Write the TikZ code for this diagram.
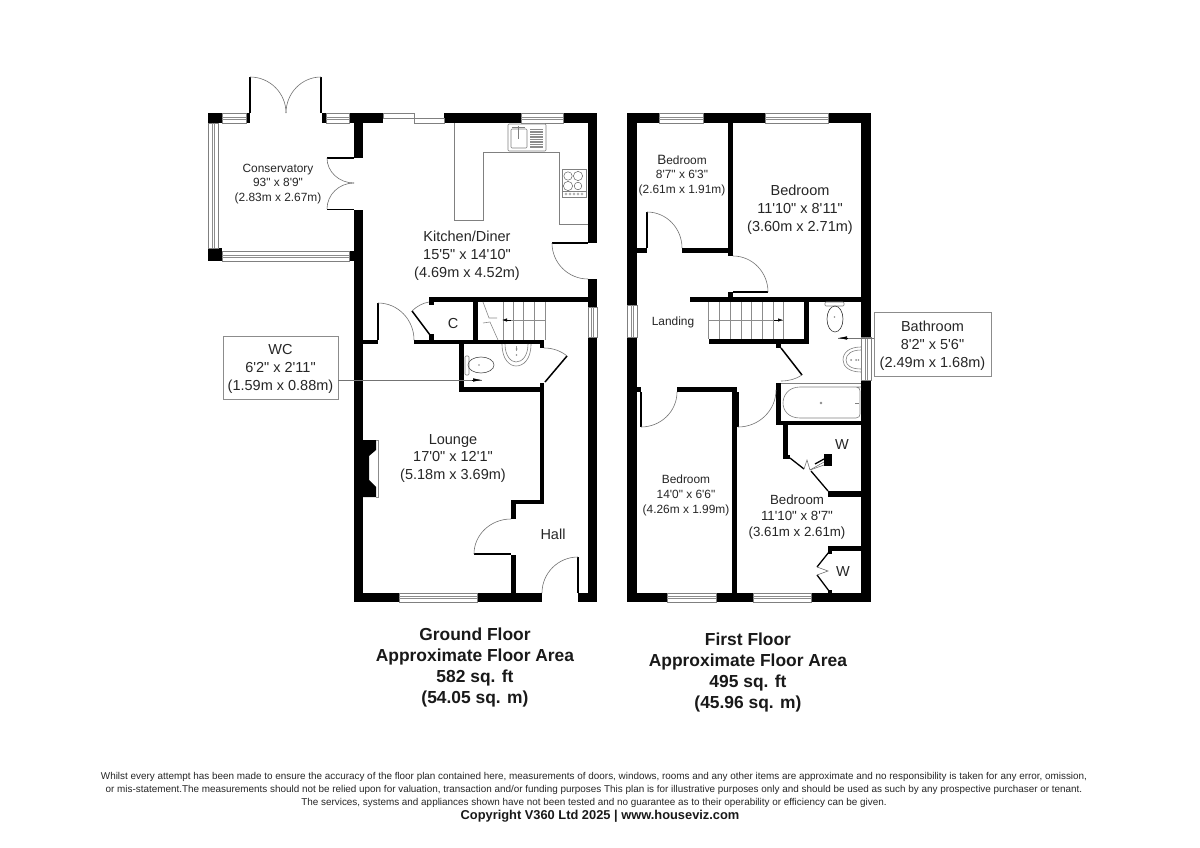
\documentclass[tikz,border=0pt]{standalone}
\usepackage{fontspec}
\setmainfont{Liberation Sans}[Ligatures=TeXOff]
\usetikzlibrary{calc,arrows.meta}
\tikzset{
  thinline/.style={draw=black!45,line width=0.6pt},
  fixture/.style={draw=black!50,line width=0.6pt},
  doorarc/.style={draw=black!55,line width=0.6pt},
  leaf/.style={draw=black,line width=1.5pt},
  windowpane/.style={draw=black!50,fill=white,line width=0.6pt},
  lbig/.style={font=\fontsize{14.5}{17.8}\selectfont,align=center,inner sep=0pt,text=black!85},
  lmid/.style={font=\fontsize{13.3}{16}\selectfont,align=center,inner sep=0pt,text=black!85},
  lsmall/.style={font=\fontsize{11.9}{14.6}\selectfont,align=center,inner sep=0pt,text=black!85},
  boxed/.style={draw=black!45,line width=0.6pt,minimum width=#1,fill=white},
  heading/.style={font=\fontsize{17.4}{21.2}\selectfont\bfseries,align=center,inner sep=0pt,text=black!90},
  legal/.style={font=\fontsize{9.9}{13.2}\selectfont,align=center,inner sep=0pt,text=black!85},
  tagline/.style={font=\fontsize{12.85}{14}\selectfont\bfseries,inner sep=0pt,text=black!90},
  pointer/.style={draw=black!55,line width=0.6pt},
  pointerhead/.style={-{Latex[length=9pt,width=3.5pt]},draw=black,line width=0.6pt}
}
\newcommand\wall[4]{\fill[black] (#1,#2) rectangle (#3,#4);}
\newcommand\hwin[4]{\draw[windowpane] (#1,#2) rectangle (#3,#4);
  \draw[thinline] (#1,{(#2+#4)/2-1}) -- (#3,{(#2+#4)/2-1}) (#1,{(#2+#4)/2+1}) -- (#3,{(#2+#4)/2+1});}
\newcommand\vwin[4]{\draw[windowpane] (#1,#2) rectangle (#3,#4);
  \draw[thinline] ({(#1+#3)/2-1},#2) -- ({(#1+#3)/2-1},#4) ({(#1+#3)/2+1},#2) -- ({(#1+#3)/2+1},#4);}
% quarter arc from (1,2) to (3,4) around centre (5,6)
\newcommand\darc[6]{\draw[doorarc] (#1,#2) .. controls ($(#1,#2)!.552!({#1+#3-#5},{#2+#4-#6})$) and ($(#3,#4)!.552!({#1+#3-#5},{#2+#4-#6})$) .. (#3,#4);}
\begin{document}
\begin{tikzpicture}[x=1pt,y=-1pt]
\useasboundingbox (0,0) rectangle (1200,848);
\fill[white] (0,0) rectangle (1200,848);

%%%%%%%% GROUND FLOOR
% outer walls
\wall{349}{113}{383}{123}\wall{444}{113}{521}{123}\wall{563}{113}{597}{123}
\wall{354}{113}{363}{158}\wall{354}{210}{363}{602}
\wall{588}{113}{597}{243}\wall{588}{279}{597}{307}\wall{588}{337}{597}{602}
\wall{354}{593}{399}{602}\wall{477}{593}{542}{602}\wall{578}{593}{597}{602}
% conservatory
\wall{208}{113}{222}{123}\wall{246}{113}{250}{123}\wall{322}{113}{326}{123}
\wall{208}{248}{222}{261}\wall{349}{251}{354}{261}
\hwin{222}{113}{246}{123}\hwin{326}{113}{349}{123}
\vwin{208}{123}{218}{248}\hwin{222}{251}{349}{261}
\draw[leaf,line width=1.2pt] (250,113) -- (250,77);
\draw[leaf,line width=1.2pt] (321,113) -- (321,77);
\darc{250}{77}{286}{113}{250}{113}
\darc{321}{77}{286}{113}{321}{113}
\draw[leaf,line width=1.2pt] (354,158) -- (327,158);
\draw[leaf,line width=1.2pt] (354,209.5) -- (327,209.5);
\darc{327}{158}{354}{183}{354}{158}
\darc{327}{209}{354}{183}{354}{209}
% top slider + windows
\draw[windowpane] (383,113) rectangle (414,118);
\draw[windowpane] (414,118) rectangle (444,123);
\hwin{521}{113}{563}{123}
\vwin{588}{307}{597}{337}
\hwin{399}{593}{477}{602}
% interior walls
\wall{430}{297}{597}{302}
\wall{429}{297}{434}{305}
\wall{429}{334}{434}{344}
\wall{363}{340}{378}{344}
\wall{414}{340}{544}{344}
\wall{473}{297}{478}{344}
\wall{459}{344}{464}{392}
\wall{459}{387}{544}{392}
\wall{540}{340}{544}{348}
\wall{540}{383}{544}{504}
\wall{511}{500}{544}{504}
\wall{511}{500}{516}{519}
\wall{511}{555}{516}{593}
% doors
\draw[leaf] (552,243) -- (588,243);
\darc{552}{243}{588}{279}{588}{243}
\draw[leaf,line width=1.2pt] (578,593) -- (578,557);
\darc{578}{557}{542}{593}{578}{593}
\draw[leaf,line width=1.2pt] (511,554) -- (474,554);
\darc{474}{554}{511}{519}{511}{554}
\draw[leaf,line width=1.2pt] (378,340) -- (378,303);
\darc{378}{303}{414}{340}{378}{340}
\draw[leaf] (430,335) -- (412,311);
\draw[doorarc] (412,311) .. controls (417,306) and (423,303) .. (429,302);
\draw[leaf] (545,382) -- (567,356);
\draw[doorarc] (567,356) .. controls (561,351) and (553,348) .. (544,348);
% kitchen fittings
\draw[fixture] (454,123) -- (454,220) -- (483,220) -- (483,152) -- (559,152) -- (559,224) -- (588,224);
\draw[fixture,fill=white,rounded corners=1pt] (508,124) rectangle (546,151);
\draw[fixture,rounded corners=1pt] (511,129) rectangle (527,148);
\draw[fixture] (518,126) -- (518,139) (512,127) -- (525,127);
\foreach \yy in {129.5,132,...,147} {\draw[black!45,line width=1.2pt] (530,\yy) -- (543,\yy);}
\draw[fixture,fill=white] (562,169) rectangle (586,197);
\draw[fixture] (562,191) -- (586,191);
\foreach \xx/\yy/\rr in {568/176/4.2,578/176/4.6,568/186/4.6,578/186/3.8} {\draw[black!60,line width=0.5pt] (\xx,\yy) circle [radius=\rr];}
\foreach \xx in {566,570,574,578,582} {\draw[black!45,line width=0.4pt] (\xx,194) circle [radius=1.2];}
% ground stairs
\foreach \xx in {503,513,523,534,545} {\draw[thinline] (\xx,302) -- (\xx,340);}
\draw[thinline] (503,320) -- (545,320);
\draw[thinline] (483,302) -- (489,318) -- (497,318);
\draw[thinline] (483,323) -- (490,322) -- (498,340);
\draw[-{Latex[length=5pt,width=3.5pt]},black,line width=0.7pt] (511,320) -- (502,320);
% WC fittings
\draw[fixture] (502,344) .. controls (502,360) and (510,366) .. (516,366) .. controls (523,366) and (531,360) .. (531,344);
\draw[fixture] (505,344) .. controls (505,356) and (511,362) .. (516,362) .. controls (522,362) and (528,356) .. (528,344);
\draw[black!40,line width=0.5pt] (516.5,346) -- (516.5,351);
\fill[black!45] (516.5,349) circle [radius=1] (516.5,355) circle [radius=0.9];
\draw[fixture,rounded corners=1pt] (465,356) rectangle (469,375);
\draw[black!70,line width=0.6pt] (481,365) ellipse [x radius=13,y radius=8];
\fill[black!45] (479,365) circle [radius=0.9];
% lounge fireplace
\fill[black] (363,440) -- (376,440) -- (376,450) -- (369,456) -- (369,480) -- (376,487) -- (376,497) -- (363,497) -- cycle;
\draw[thinline] (376,440) -- (378,440) -- (378,497) -- (376,497);

%%%%%%%% FIRST FLOOR
\wall{627}{113}{659}{123}\wall{703}{113}{765}{123}\wall{828}{113}{871}{123}
\wall{627}{113}{637}{305}\wall{627}{337}{637}{602}
\wall{861}{113}{871}{337}\wall{861}{380}{871}{602}
\wall{627}{593}{667}{602}\wall{716}{593}{753}{602}\wall{811}{593}{871}{602}
\hwin{659}{113}{703}{123}\hwin{765}{113}{828}{123}
\vwin{627}{305}{637}{337}\vwin{861}{337}{871}{380}
\hwin{667}{593}{716}{602}\hwin{753}{593}{811}{602}
% interior
\wall{728}{123}{733}{256}
\wall{637}{248}{647}{253}\wall{682}{248}{733}{253}
\wall{728}{292}{733}{300}
\wall{690}{297}{861}{302}
\wall{804}{297}{809}{344}
\wall{709}{339}{809}{344}
\wall{776}{344}{781}{348}
\wall{776}{383}{781}{425}
\wall{776}{421}{861}{425}
\wall{637}{387}{641}{392}
\wall{677}{387}{737}{392}
\wall{732}{387}{737}{593}
\wall{783}{425}{788}{458}
\wall{783}{455}{790}{459}
\wall{828}{491}{861}{497}
\wall{824}{454}{832}{466}
\wall{828}{546}{861}{551}
\wall{828}{546}{832}{554}
\wall{828}{590}{832}{593}
% doors
\draw[leaf] (647,248) -- (647,212);
\darc{647}{212}{682}{248}{647}{248}
\draw[leaf] (733,292) -- (768,292);
\darc{733}{256}{768}{292}{733}{292}
\draw[leaf] (781,348) -- (802,375);
\draw[doorarc] (802,375) .. controls (796,379) and (789,381) .. (781,381);
\draw[leaf,line width=1.1pt] (641,392) -- (641,427);
\darc{641}{427}{677}{392}{641}{392}
\draw[leaf,line width=1.1pt] (738,392) -- (738,427);
\darc{738}{427}{776}{390}{738}{390}
% wardrobes
\draw[leaf,line width=1.3pt] (790,458) -- (804,469);
\draw[leaf,line width=1.3pt] (811,471) -- (828,491);
\draw[leaf,line width=1.3pt] (824,459) -- (815,464);
\draw[doorarc] (804,469) -- (807,460) -- (810,470) -- (824,462);
\draw[doorarc] (810,470) -- (824,465);
\draw[leaf,line width=1.3pt] (829,552) -- (817,567);
\draw[leaf,line width=1.3pt] (817,575) -- (829,591);
\draw[doorarc] (817,567) -- (828,571) -- (817,575);
% first stairs
\foreach \xx in {708,719,730,741,751,762,773,783} {\draw[thinline] (\xx,302) -- (\xx,339);}
\draw[thinline] (708,320) -- (783,320);
\draw[-{Latex[length=5pt,width=3.5pt]},black,line width=0.7pt] (774,320) -- (783,320);
% bath
\draw[fixture] (781,383) -- (861,383);
\draw[fixture] (861,387) -- (800,387) .. controls (788,387) and (783,396) .. (783,403) .. controls (783,410) and (788,418) .. (800,418) -- (856,418) .. controls (859,418) and (860,416) .. (860,414) -- (860,391) .. controls (860,389) and (859,387) .. (856,387);
\fill[black!45] (821,403) circle [radius=1.4];
\draw[black!50,line width=1pt] (855,403) -- (859,403);
% bathroom toilet and basin
\draw[fixture,rounded corners=1pt] (825,302) rectangle (844,306);
\draw[black!80,line width=0.6pt] (835,319) ellipse [x radius=8,y radius=13];
\fill[black!45] (834.5,317) circle [radius=0.9];
\draw[fixture] (861,347) .. controls (850,347) and (843,352) .. (843,360) .. controls (843,367) and (850,372) .. (861,372);
\draw[fixture] (861,350) .. controls (852,350) and (846,354) .. (846,360) .. controls (846,366) and (852,369) .. (861,369);
\fill[black!45] (851,360) circle [radius=1] (856,360) circle [radius=1] (858.5,360) circle [radius=.9];

%%%%%%%% LABELS
\node[lsmall] (conservatory) at (278,184) {Conservatory\\93" x 8'9"\\(2.83m x 2.67m)};
\node[lbig] (kitchen) at (467,255.5) {Kitchen/Diner\\15'5" x 14'10"\\(4.69m x 4.52m)};
\node[lbig] (cupboard) at (453,323.5) {C};
\node[lbig,boxed=115pt,minimum height=63pt] (wc) at (280.5,367.5) {\rule{0pt}{13pt}WC\\6'2" x 2'11"\\(1.59m x 0.88m)};
\node[lbig] (lounge) at (453,458.5) {Lounge\\17'0" x 12'1"\\(5.18m x 3.69m)};
\node[lbig] (hall) at (553,534.5) {Hall};
\node[lsmall] (bed4) at (682,175.5) {{\fontsize{13.5}{14.6}\selectfont B}edroom\\8'7" x 6'3"\\(2.61m x 1.91m)};
\node[lbig] (bed1) at (800,209.5) {Bedroom\\11'10" x 8'11"\\(3.60m x 2.71m)};
\node[lsmall] (landing) at (673,322) {Landing};
\node[lbig,boxed=117pt,minimum height=64pt] (bath) at (932.5,344) {\rule{0pt}{14pt}Bathroom\\8'2" x 5'6"\\(2.49m x 1.68m)};
\node[lsmall] (bed3) at (686,495.5) {Bedroom\\14'0" x 6'6"\\(4.26m x 1.99m)};
\node[lmid] (bed2) at (797,517) {Bedroom\\11'10" x 8'7"\\(3.61m x 2.61m)};
\node[lbig] (w1) at (842,445) {W};
\node[lbig] (w2) at (843,572) {W};

% pointers
\coordinate (wcend) at (482,380);
\coordinate (bathend) at (838,338);
\draw[pointer] (wc.east |- wcend) -- (wcend);
\draw[pointerhead] ($(wcend)+(-10,0)$) -- (wcend);
\draw[pointer] (bath.west |- bathend) -- (bathend);
\draw[pointerhead] ($(bathend)+(10,0)$) -- (bathend);

\node[heading] (gf) at (475,667.5) {Ground Floor\\Approximate Floor Area\\582 sq. ft\\(54.05 sq. m)};
\node[heading] (ff) at (748,672.5) {First Floor\\Approximate Floor Area\\495 sq. ft\\(45.96 sq. m)};

\node[legal] (disclaimer) at (594,790) {Whilst every attempt has been made to ensure the accuracy of the floor plan contained here, measurements of doors, windows, rooms and any other items are approximate and no responsibility is taken for any error, omission,\\or mis-statement.The measurements should not be relied upon for valuation, transaction and/or funding purposes This plan is for illustrative purposes only and should be used as such by any prospective purchaser or tenant.\\The services, systems and appliances shown have not been tested and no guarantee as to their operability or efficiency can be given.};
\node[tagline] (copyright) at (600,816.5) {Copyright V360 Ltd 2025 | www.houseviz.com};
\end{tikzpicture}
\end{document}
